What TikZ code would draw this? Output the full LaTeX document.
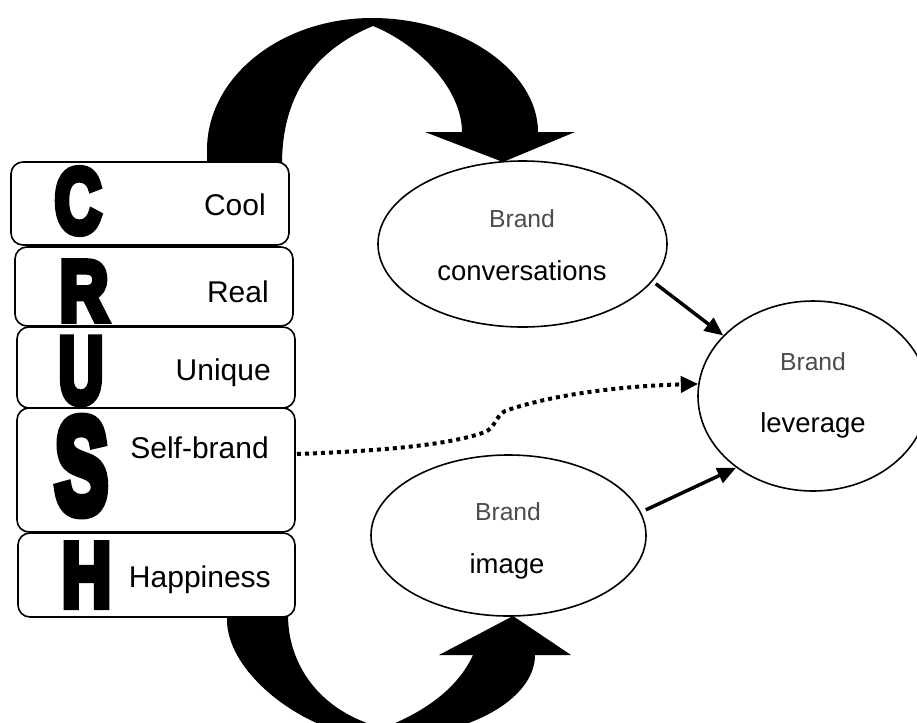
\documentclass[tikz,border=0pt]{standalone}
\usepackage{fontspec}
\setmainfont{Liberation Sans}
\newfontfamily\crushfont[BoldFeatures={FakeBold=8}]{Liberation Sans}
\usetikzlibrary{shapes.geometric,arrows.meta,fit}

\tikzset{
  curvearrow/.style={fill=black},
  crushbox/.style={draw, line width=1.2pt, rounded corners=9pt, fill=white, inner sep=0pt},
  letter/.style={inner sep=0pt, font=\crushfont\bfseries},
  boxlabel/.style={inner sep=0pt, anchor=base east, font=\fontsize{22.5}{27}\selectfont},
  bubble/.style={draw, ellipse, line width=1.2pt, fill=white, inner sep=0pt},
  brandword/.style={inner sep=0pt, anchor=base, text=black!70, font=\fontsize{18.5}{22}\selectfont},
  bubbleword/.style={inner sep=0pt, anchor=base, font=\fontsize{20.6}{25}\selectfont},
  link/.style={line width=2.6pt, -{Triangle[length=14pt,width=12pt]}},
  dotlink/.style={line width=3pt, dash pattern=on 3pt off 3pt, -{Triangle[length=13pt,width=12pt]}}
}

\begin{document}
\begin{tikzpicture}[x=0.75pt, y=-0.75pt]
  \useasboundingbox (0,0) rectangle (917,722);
  \clip (0,0) rectangle (917,722);
  \fill[white] (0,0) rectangle (917,722);

  % upper curved arrow, from the C box over to the conversations bubble
  \fill[curvearrow] (207,164) -- (207,150)
    .. controls (207,77) and (281,18) .. (372,18)
    .. controls (463,18) and (538,72) .. (538,132)
    -- (575,132) -- (503,162) -- (425,132) -- (462,132)
    .. controls (462,90) and (420,45) .. (373,26)
    .. controls (315,50) and (282,95) .. (282,164) -- cycle;

  % lower curved arrow, from the H box round to the image bubble
  \fill[curvearrow] (227,615) -- (227,620)
    .. controls (227,675) and (310,738) .. (381,738)
    .. controls (466,738) and (535,700) .. (535,655)
    -- (571,655) -- (513,616) -- (439,655) -- (473,655)
    .. controls (458,688) and (425,712) .. (383,728)
    .. controls (320,712) and (288,665) .. (288,615) -- cycle;

  % CRUSH boxes
  \node[crushbox, fit={(11,162) (289,245)}] (cool) {};
  \node[crushbox, fit={(15,247) (293,326)}] (real) {};
  \node[crushbox, fit={(17,327) (295,408)}] (unique) {};
  \node[crushbox, fit={(17,408) (295,532)}] (self) {};
  \node[crushbox, fit={(18,533) (295,617)}] (happy) {};

  % initials
  \node[letter] (lc) at (78,201)   {\resizebox{35pt}{48pt}{C}};
  \node[letter] (lr) at (84,291)   {\resizebox{36.5pt}{44pt}{R}};
  \node[letter] (lu) at (81,371)   {\resizebox{33.5pt}{48.5pt}{U}};
  \node[letter] (ls) at (81.5,466) {\resizebox{40pt}{71pt}{S}};
  \node[letter] (lh) at (86.5,575) {\resizebox{37pt}{47pt}{H}};

  % box labels
  \node[boxlabel] (tcool)   at (266,215) {Cool};
  \node[boxlabel] (treal)   at (269,302) {Real};
  \node[boxlabel] (tunique) at (271,380) {Unique};
  \node[boxlabel] (tself)   at (269,458) {Self-brand};
  \node[boxlabel] (thappy)  at (271,587) {Happiness};

  % bubbles
  \node[bubble, minimum width=216.75pt, minimum height=124.5pt] (conv) at (522.5,244) {};
  \node[bubble, minimum width=206.25pt, minimum height=120.75pt] (img) at (508.5,535.5) {};
  \node[bubble, minimum width=172.5pt, minimum height=142.5pt] (lev) at (813,396) {};

  \node[brandword]  (bconv) at (522,227) {Brand};
  \node[bubbleword] (wconv) at (522,280) {conversations};
  \node[brandword]  (bimg)  at (508,520) {Brand};
  \node[bubbleword] (wimg)  at (507,573) {image};
  \node[brandword]  (blev)  at (813,370) {Brand};
  \node[bubbleword] (wlev)  at (813,432) {leverage};

  % connectors
  \draw[link, shorten <=3pt] (conv.-16) -- (lev.146.8);
  \draw[link, shorten <=4pt] (img.10) -- (lev.-137);
  \coordinate (selfout) at (297,454);
  \draw[dotlink] (selfout)
    .. controls (380,451) and (450,445) .. (485,432)
    .. controls (495,428) and (495,417) .. (505,411)
    .. controls (550,395) and (620,386) .. (lev.174);
\end{tikzpicture}
\end{document}
